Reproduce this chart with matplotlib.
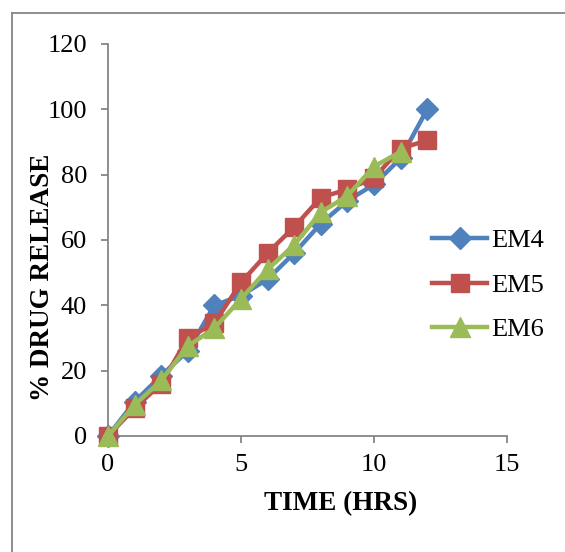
import matplotlib
matplotlib.use("Agg")
import matplotlib.pyplot as plt
from matplotlib.lines import Line2D

# Data
hours = [0, 1, 2, 3, 4, 5, 6, 7, 8, 9, 10, 11, 12]
em4 = [0, 10.5, 18.5, 26, 40, 43, 48, 56, 65, 72, 77, 85, 100]
em5 = [0, 8.5, 16, 30, 34.5, 47, 56, 64, 73, 75.5, 79, 88, 90.5]
em6_hours = [0, 1, 2, 3, 4, 5, 6, 7, 8, 9, 10, 11]
em6 = [0, 9.5, 17, 27.5, 33, 42, 51, 58.5, 68.5, 73.5, 82.5, 87]

x_ticks = [0, 5, 10, 15]
y_ticks = [0, 20, 40, 60, 80, 100, 120]

BLUE = "#4F81BD"
RED = "#C0504D"
GREEN = "#9BBB59"
GREY = "#868686"

plt.rcParams["font.family"] = ["Liberation Serif", "DejaVu Serif"]

W, H = 565, 552
fig = plt.figure(figsize=(W / 100, H / 100), dpi=100)
ax = fig.add_axes([108 / W, 1 - 436 / H, (507 - 108) / W, (436 - 44) / H])

ax.plot(hours, em4, color=BLUE, lw=3.2, marker="D", ms=11, label="EM4",
        zorder=3, clip_on=False)
ax.plot(hours, em5, color=RED, lw=3.2, marker="s", ms=13, label="EM5",
        zorder=4, clip_on=False)
ax.plot(em6_hours, em6, color=GREEN, lw=3.2, marker="^", ms=14, label="EM6",
        zorder=5, clip_on=False)

ax.set_xlim(0, 15)
ax.set_ylim(0, 120)
ax.set_xticks(x_ticks)
ax.set_yticks(y_ticks)
for label in ax.get_xticklabels() + ax.get_yticklabels():
    label.set_fontsize(19)

ax.spines["top"].set_visible(False)
ax.spines["right"].set_visible(False)
for side in ("left", "bottom"):
    ax.spines[side].set_color(GREY)
    ax.spines[side].set_linewidth(1.3)
ax.tick_params(axis="both", direction="out", length=5, width=1.3, color=GREY)
ax.tick_params(axis="y", pad=10)
ax.tick_params(axis="x", pad=8)

ax.set_xlabel("TIME (HRS)", fontsize=19.5, fontweight="bold")
ax.set_ylabel("% DRUG RELEASE", fontsize=19.5, fontweight="bold")
ax.xaxis.set_label_coords(0.584, -0.14)
ax.yaxis.set_label_coords(-0.132, 0.405)

ax.legend(loc="center left", bbox_to_anchor=(432 / W, 1 - 285 / H),
          bbox_transform=fig.transFigure, frameon=False, fontsize=19,
          handlelength=2.1, handletextpad=0.15, labelspacing=0.8,
          borderpad=0, borderaxespad=0)

# chart area border (left and top edges visible)
fig.add_artist(Line2D([12 / W, 12 / W], [0, 1 - 13 / H], transform=fig.transFigure,
                      color=GREY, lw=1.3))
fig.add_artist(Line2D([12 / W, 1], [1 - 13 / H, 1 - 13 / H], transform=fig.transFigure,
                      color=GREY, lw=1.3))

fig.savefig("out.png", dpi=100)
